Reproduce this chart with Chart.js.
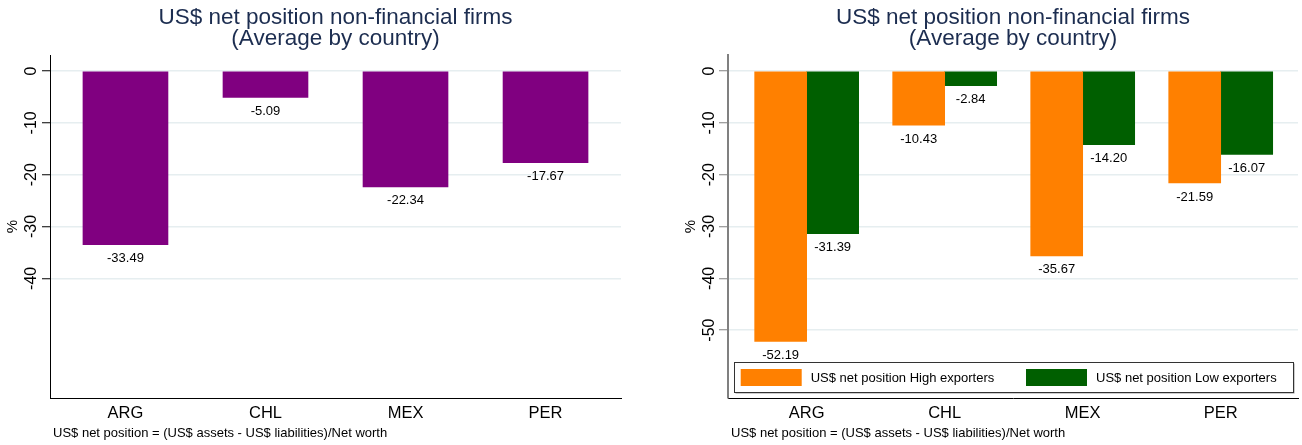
<!DOCTYPE html>
<html>
<head>
<meta charset="utf-8">
<script src="https://cdn.jsdelivr.net/npm/chart.js@4"></script>
<style>
  html, body { margin: 0; padding: 0; background: #fff; }
  .wrap { position: relative; width: 1302px; height: 445px; }
  .panel { position: absolute; top: 0; width: 651px; height: 445px; }
</style>
</head>
<body>
<div class="wrap">
  <div class="panel" style="left:0"><canvas id="avgChart" width="651" height="445"></canvas></div>
  <div class="panel" style="left:651px"><canvas id="exportersChart" width="651" height="445"></canvas></div>
</div>
<script>
// Data
const countries = ['ARG', 'CHL', 'MEX', 'PER'];
const avgNetPosition = [-33.49, -5.09, -22.34, -17.67];
const highExporters = [-52.19, -10.43, -35.67, -21.59];
const lowExporters = [-31.39, -2.84, -14.20, -16.07];
const leftTicks = [0, -10, -20, -30, -40];
const rightTicks = [0, -10, -20, -30, -40, -50];
const titleLines = ['US$ net position non-financial firms', '(Average by country)'];
const footnote = 'US$ net position = (US$ assets - US$ liabilities)/Net worth';

// Theme
const fontFamily = "'Liberation Sans', Arial, Helvetica, sans-serif";
const titleColor = '#1c2d50';
const gridColor = '#e6eef0';
const purple = '#800080';
const orange = '#ff8000';
const dkgreen = '#005f00';

const toPoints = vals => vals.map((v, i) => ({ x: i, y: v }));

// Draws the Stata-style text bits: title, rotated y labels, categories, value labels, note, legend
const stataDecor = {
    id: 'stataDecor',
    afterDraw(chart, args, opts) {
        const { ctx, chartArea: a } = chart;
        const xs = chart.scales.x;
        const ys = chart.scales.y;
        ctx.save();

        // title
        ctx.fillStyle = titleColor;
        ctx.font = `22.5px ${fontFamily}`;
        ctx.textAlign = 'center';
        ctx.textBaseline = 'alphabetic';
        const cx = (a.left + a.right) / 2;
        ctx.fillText(titleLines[0], cx, 24);
        ctx.fillText(titleLines[1], cx, 45);

        // y tick labels, rotated
        ctx.fillStyle = '#000';
        ctx.font = `16px ${fontFamily}`;
        ys.ticks.forEach(t => {
            const py = ys.getPixelForValue(t.value);
            ctx.save();
            ctx.translate(a.left - 18.5, py);
            ctx.rotate(-Math.PI / 2);
            ctx.textBaseline = 'middle';
            ctx.fillText(String(t.value), 0, 0);
            ctx.restore();
        });

        // y axis title
        ctx.save();
        ctx.font = `15px ${fontFamily}`;
        ctx.translate(a.left - 37, (a.top + a.bottom) / 2);
        ctx.rotate(-Math.PI / 2);
        ctx.textBaseline = 'middle';
        ctx.fillText('%', 0, 0);
        ctx.restore();

        // category labels
        ctx.font = `16.5px ${fontFamily}`;
        ctx.textBaseline = 'alphabetic';
        countries.forEach((c, i) => ctx.fillText(c, xs.getPixelForValue(i), 418));

        // value labels under each bar
        ctx.font = `13px ${fontFamily}`;
        ctx.textBaseline = 'middle';
        chart.data.datasets.forEach((ds, di) => {
            chart.getDatasetMeta(di).data.forEach((bar, j) => {
                ctx.fillText(ds.data[j].y.toFixed(2), bar.x, bar.y + 14);
            });
        });

        // footnote
        ctx.textAlign = 'left';
        ctx.textBaseline = 'alphabetic';
        ctx.fillText(footnote, a.left + 3, 437);

        // legend box inside plot
        if (opts.legend) {
            const bx = a.left + 6, by = a.bottom - 36, bw = a.right - a.left - 11, bh = 30;
            ctx.fillStyle = '#999';
            ctx.fillRect(bx + 1.5, by + 1.5, bw, bh);
            ctx.fillStyle = '#fff';
            ctx.fillRect(bx, by, bw, bh);
            ctx.strokeStyle = '#333';
            ctx.lineWidth = 1;
            ctx.strokeRect(bx + 0.5, by + 0.5, bw, bh);
            const itemX = [bx + 6.7, bx + 292];
            ctx.font = `13px ${fontFamily}`;
            ctx.textBaseline = 'middle';
            chart.data.datasets.forEach((ds, di) => {
                ctx.fillStyle = ds.backgroundColor;
                ctx.fillRect(itemX[di], by + 7, 61, 17);
                ctx.fillStyle = '#000';
                ctx.fillText(ds.label, itemX[di] + 70, by + 16);
            });
        }
        ctx.restore();
    }
};

function buildChart(id, datasets, cfg) {
    const canvas = document.getElementById(id);
    return new Chart(canvas.getContext('2d'), {
        type: 'bar',
        data: { datasets },
        plugins: [stataDecor],
        options: {
            responsive: false,
            animation: false,
            layout: { padding: { top: 55, bottom: 47, left: 0, right: cfg.rightPad } },
            datasets: { bar: { barThickness: cfg.barThickness, borderWidth: 0 } },
            plugins: {
                legend: { display: false },
                title: { display: false },
                tooltip: { enabled: false },
                stataDecor: { legend: cfg.legend }
            },
            scales: {
                x: {
                    type: 'linear',
                    offset: false,
                    min: cfg.xMin,
                    max: cfg.xMax,
                    ticks: { display: false },
                    grid: { display: false, offset: false },
                    border: { display: true, color: '#000', width: 1 },
                    afterFit: s => { s.height = 0; }
                },
                y: {
                    min: -63.1,
                    max: 3.1,
                    afterBuildTicks: s => { s.ticks = cfg.yTicks.map(v => ({ value: v })); },
                    ticks: { display: false },
                    grid: {
                        color: gridColor,
                        lineWidth: 1.5,
                        drawTicks: true,
                        tickLength: cfg.tickLength,
                        tickColor: cfg.axisColor,
                        tickWidth: 1
                    },
                    border: { display: true, color: cfg.axisColor, width: cfg.axisWidth },
                    afterFit: s => { s.width = cfg.yWidth; }
                }
            }
        }
    });
}

buildChart('avgChart', [{
    label: 'US$ net position',
    data: toPoints(avgNetPosition),
    backgroundColor: purple
}], {
    yWidth: 50, rightPad: 30, xMin: -0.539, xMax: 3.539,
    barThickness: 85, yTicks: leftTicks, tickLength: 8,
    axisColor: '#000', axisWidth: 1, legend: false
});

buildChart('exportersChart', [{
    label: 'US$ net position High exporters',
    data: toPoints(highExporters),
    backgroundColor: orange
}, {
    label: 'US$ net position Low exporters',
    data: toPoints(lowExporters),
    backgroundColor: dkgreen
}], {
    yWidth: 77, rightPad: 4, xMin: -0.570, xMax: 3.560,
    barThickness: 52, yTicks: rightTicks, tickLength: 9,
    axisColor: '#808080', axisWidth: 2, legend: true
});
</script>
</body>
</html>
